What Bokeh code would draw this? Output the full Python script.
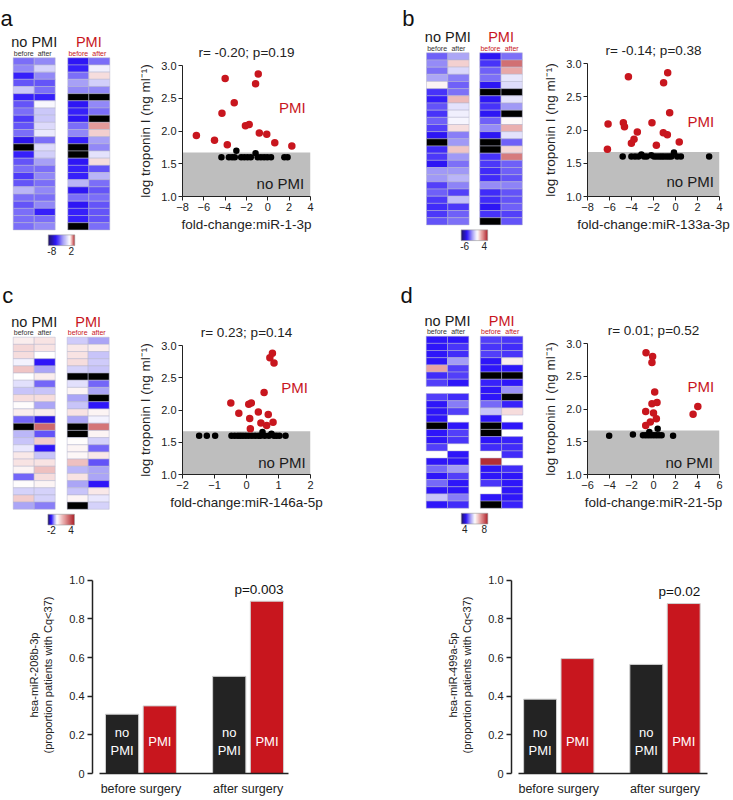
import numpy as np
from bokeh.plotting import figure
from bokeh.models import Range1d, FixedTicker, LinearColorMapper, ColumnDataSource, Label, PrintfTickFormatter
from bokeh.core.properties import value
from bokeh.layouts import row, column
from bokeh.embed import file_html
from bokeh.resources import INLINE

FONT = "Liberation Sans"
RED = "#c8161e"
GRAY = "#bebebe"
DARK = "#222222"
NA = float("nan")   # black cell (not available)
GAP = None          # blank cell

# ---------------- heatmap values (rows = patients) ----------------
a_nopmi_before = [-3.5, -3, -5, -4, -1.5, -5, -4, -3.5, -4.5, -4, -3.5, -5.5, NA, -5, -4, -3.5, -4.5, -4, -2, -3.5, -4, -3.5, -3.5, -3.5]
a_nopmi_after = [-3, -1.2, -3, -4, -3.5, -5, -0.2, -1.5, -1.5, -1, -0.6, -3.5, -1, -1.3, -2.5, -3.5, -3, -3.5, -3, -3.5, -3, -5, -3.5, -3]
a_pmi_before = [-5.3, -5, -3.5, -2.5, -3, NA, -5.3, -5, -5.3, -3.5, -3, -5, NA, NA, -5.3, -5, -5, -2, -5.3, -3.5, -5.3, -5, -5, NA]
a_pmi_after = [-3.5, -0.4, 0.3, -1.3, -3, NA, -3, -3.5, NA, 0.9, 0.4, -2.5, -3, -0.8, 0.3, -4, -2, -3.5, -4, -3.5, -4, -4, -4, -3.5]

b_nopmi_before = [-2.8, -2.2, -2.6, -1.8, 0.2, -3.5, -3.8, -3, -3.5, -2.8, -3.3, -4, NA, -3.6, -3.4, -4, -2, -2, -3.3, -2.8, -3.4, -3.6, -3.4, -3]
b_nopmi_after = [-1.8, 0.8, -0.8, -2.4, -2.8, -2.6, 1.2, -0.6, -0.3, -0.2, 0.6, -2.4, -2, 1.0, -2, -2.6, -2, -1.5, -2.3, -3.3, -1.3, -3.4, -2.8, -2.6]
b_pmi_before = [-4, -3.5, -2.8, -2.6, -4, NA, -4, -3.5, -4, -2.8, -2.2, -4, NA, NA, -3.5, -3.4, -3.6, -3.6, -2.2, -3.6, -3.6, -4, -3.5, NA]
b_pmi_after = [-2.6, 2.5, 1.5, -0.5, -0.7, NA, -0.6, -2, NA, 0.1, 1.4, -0.6, -2.8, 0.7, 2.3, -2.8, -2.8, -3, -2.3, -3, -3, -2.8, -3.3, -3]

c_nopmi_before = [0.3, 0.7, 0.6, -0.1, 1.0, 0, -0.2, -0.4, 0.6, 0.05, 0.3, -0.9, NA, -0.5, -0.4, -0.15, 0.4, 0.5, 0.2, -0.9, 0.05, -0.3, 0.9, -0.6]
c_nopmi_after = [0.5, 0.5, 0, -1.3, -0.6, 0.3, -0.9, -0.4, 0.6, -0.6, 0.3, -1.4, 2.6, -1.0, 0.9, -1.3, -0.4, 0.5, 1.1, 0.6, 0.2, -0.3, -0.3, -0.8]
c_pmi_before = [-0.35, 0.4, 0.5, 0.6, -0.3, NA, -0.2, 0.2, -0.6, -0.4, 0.5, -0.6, NA, NA, 0.05, 0.2, 0.15, 1.1, -0.5, 0.5, -0.6, -0.4, 0.2, NA]
c_pmi_after = [-0.6, 0.3, -0.4, -0.35, -0.4, NA, -0.9, -0.6, NA, -1.3, 0.2, -0.1, 2.4, 0.2, -0.3, -0.9, 0.4, -1.0, -0.6, -0.6, -1.3, 0.4, -0.15, -0.3]

d_nopmi_before = [4.7, 4.7, 4.7, 4.7, 6.8, 4.8, 4.9, GAP, 4.9, 4.7, 4.7, 4.7, NA, 4.7, 4.7, 4.9, GAP, 4.7, 5.1, 4.7, 5.1, 4.7, 5.6, 4.7]
d_nopmi_after = [4.7, 4.85, 4.8, 5.35, 4.9, 4.9, 4.7, GAP, 4.8, 5.2, 4.9, GAP, 4.7, 4.9, 4.85, GAP, 4.7, 4.7, 5.35, 4.9, 4.7, 4.7, 5.2, 4.8]
d_pmi_before = [4.9, 4.85, 4.9, 4.7, 4.7, NA, 4.75, 4.7, 4.7, 5.1, 5.6, 4.7, NA, NA, 4.7, 4.8, GAP, 7.8, 4.7, 4.7, 4.85, GAP, 4.7, NA]
d_pmi_after = [4.85, 4.8, 4.85, 6.15, 4.7, NA, 4.7, 5.3, NA, 4.75, 6.3, GAP, 4.7, GAP, 4.75, 4.8, 4.8, GAP, 4.8, 4.7, 4.7, 4.7, 4.7, 4.75]

# ---------------- scatter values ----------------
THRESH = 1.67
a_pmi_x = [-6.7, -5.0, -3.8, -4.0, -4.3, -3.15, -2.1, -1.75, -1.15, -0.9, -0.8, -0.1, 0.65, 2.25]
a_pmi_y = [1.93, 1.86, 1.79, 2.80, 2.27, 2.43, 2.08, 2.10, 2.72, 2.87, 1.97, 1.95, 1.82, 1.77]
a_nopmi_x = [-4.35, -3.65, -3.35, -3.1, -2.95, -2.5, -2.2, -1.9, -1.6, -1.15, -0.95, -0.65, -0.35, -0.05, 0.3, 1.55, 1.85]
a_nopmi_y = [1.6, 1.6, 1.6, 1.6, 1.7, 1.6, 1.6, 1.6, 1.6, 1.66, 1.6, 1.6, 1.6, 1.6, 1.6, 1.6, 1.6]

b_pmi_x = [-6.13, -6.19, -4.74, -4.64, -4.28, -4.01, -3.77, -3.47, -2.14, -1.74, -1.08, -1.11, -0.71, -0.74, -0.53, 0.34]
b_pmi_y = [2.09, 1.71, 2.11, 2.05, 2.80, 1.80, 1.86, 1.97, 2.11, 1.77, 2.71, 1.96, 2.86, 1.93, 2.26, 1.82]
b_nopmi_x = [-4.80, -4.01, -3.68, -3.37, -3.10, -2.86, -2.62, -2.20, -1.95, -1.71, -1.47, -1.26, -1.05, -0.81, -0.59, -0.38, -0.14, 0.16, 0.49, 3.06]
b_nopmi_y = [1.6, 1.6, 1.6, 1.6, 1.63, 1.6, 1.6, 1.62, 1.6, 1.6, 1.6, 1.6, 1.6, 1.6, 1.6, 1.6, 1.66, 1.6, 1.6, 1.6]

c_pmi_x = [-0.49, -0.24, 0.07, 0.15, 0.10, 0.12, 0.37, 0.45, 0.55, 0.63, 0.68, 0.73, 0.81, 0.86, 0.83]
c_pmi_y = [2.11, 1.95, 2.09, 2.11, 1.87, 1.71, 1.97, 1.80, 2.27, 1.76, 1.93, 2.81, 2.88, 2.73, 1.81]
c_nopmi_x = [-1.48, -1.24, -0.98, -0.47, -0.37, -0.27, -0.19, -0.11, -0.02, 0.07, 0.17, 0.27, 0.37, 0.44, 0.50, 0.57, 0.70, 0.78, 0.86, 0.94, 1.03, 1.22]
c_nopmi_y = [1.6, 1.6, 1.6, 1.6, 1.6, 1.6, 1.6, 1.6, 1.6, 1.6, 1.6, 1.6, 1.6, 1.6, 1.66, 1.6, 1.6, 1.63, 1.6, 1.6, 1.6, 1.6]

d_pmi_x = [-0.68, -0.08, -0.14, 0.11, -0.14, 0.32, -0.71, 0.0, 0.26, -0.29, -0.71, 3.60, 4.03]
d_pmi_y = [2.86, 2.80, 2.71, 2.26, 2.08, 2.10, 1.96, 1.94, 1.85, 1.80, 1.75, 1.92, 2.04]
d_nopmi_x = [-4.03, -1.87, -0.96, -0.71, -0.47, -0.38, -0.23, 0.02, 0.26, 0.38, 0.50, 0.74, 1.78]
d_nopmi_y = [1.59, 1.61, 1.6, 1.6, 1.6, 1.65, 1.6, 1.6, 1.6, 1.70, 1.6, 1.6, 1.59]

# ---------------- bar values ----------------
groups = ["before surgery", "after surgery"]
e_nopmi = [0.307, 0.503]
e_pmi = [0.35, 0.892]
f_nopmi = [0.385, 0.565]
f_pmi = [0.595, 0.88]

# ---------------- colour helpers ----------------
BLUE_STOPS = [(0.0, (255, 255, 255)), (0.3, (172, 166, 246)), (0.65, (46, 22, 250)), (1.0, (32, 22, 96))]
RED_STOPS = [(0.0, (255, 255, 255)), (0.45, (228, 152, 152)), (1.0, (168, 24, 34))]


def interp(stops, t):
    t = min(max(t, 0.0), 1.0)
    for (t0, c0), (t1, c1) in zip(stops, stops[1:]):
        if t <= t1:
            f = (t - t0) / (t1 - t0)
            return "#%02x%02x%02x" % tuple(int(round(a + (b - a) * f)) for a, b in zip(c0, c1))
    return "#%02x%02x%02x" % stops[-1][1]


def diverging(low, high, mid, n=256):
    out = []
    for i in range(n):
        v = low + (high - low) * (i + 0.5) / n
        if v < mid:
            out.append(interp(BLUE_STOPS, (mid - v) / (mid - low)))
        else:
            out.append(interp(RED_STOPS, (v - mid) / (high - mid)))
    return out


def txt(p, x, y, text, size, color=DARK, align="center", baseline="middle"):
    p.text(x=x, y=y, text=text, text_font=value(FONT), text_font_size=size,
           text_color=color, text_align=align, text_baseline=baseline)


def heatmap(letter, cols, low, high, mid, cb_labels, fig_w, fig_h, left_px, top_px, colw, pmi_off, letter_px):
    rowh = 7.17
    x0 = -left_px / colw
    x1 = x0 + fig_w / colw
    y1 = top_px / rowh
    y0 = y1 - fig_h / rowh
    p = figure(width=fig_w, height=fig_h, x_range=Range1d(x0, x1), y_range=Range1d(y0, y1),
               x_axis_location=None, y_axis_location=None, toolbar_location=None,
               output_backend="svg", min_border=0, outline_line_color=None, frame_align=False)
    p.grid.visible = False
    mapper = LinearColorMapper(palette=diverging(low, high, mid), low=low, high=high, nan_color="black")
    xs, ys, vs = [], [], []
    for b in range(2):
        for j in range(2):
            for i, v in enumerate(cols[2 * b + j]):
                if v is None:
                    continue
                xs.append(b * pmi_off + j + 0.5)
                ys.append(-(i + 0.5))
                vs.append(v)
    src = ColumnDataSource(dict(x=xs, y=ys, v=vs))
    p.rect("x", "y", 1, 1, source=src, fill_color={"field": "v", "transform": mapper},
           line_color="#b4b4cc", line_width=0.5)
    nrows = len(cols[0])
    hy = 15.5 / rowh
    sy = 4.8 / rowh
    txt(p, [1.0], [hy], ["no PMI"], "14.5px", "#1a1a1a")
    txt(p, [pmi_off + 1.0], [hy], ["PMI"], "14.5px", RED)
    txt(p, [0.5, 1.5], [sy, sy], ["before", "after"], "7px", "#333333")
    txt(p, [pmi_off + 0.5, pmi_off + 1.5], [sy, sy], ["before", "after"], "7px", RED)
    # colour key
    cx = (pmi_off + 2.0) / 2.0
    cw = 26.5 / colw
    ch = 10.7 / rowh
    cb_top = -nrows - 5.0 / rowh
    p.image(image=[np.linspace(low, high, 128).reshape(1, -1)], x=cx - cw / 2, y=cb_top - ch,
            dw=cw, dh=ch, color_mapper=mapper)
    p.rect(x=[cx], y=[cb_top - ch / 2], width=cw, height=ch, fill_color=None,
           line_color="#9a9a9a", line_width=0.6)
    ly = cb_top - ch - 1.5 / rowh
    txt(p, [cx - cw / 2 + 3.5 / colw, cx + cw / 2 - 3.5 / colw], [ly, ly],
        cb_labels, "10px", "#222222", baseline="top")
    txt(p, [x0 + letter_px[0] / colw], [y1 - letter_px[1] / rowh], [letter], "22px", "#111111",
        align="left", baseline="alphabetic")
    return p


def style_axes(p):
    for ax in (p.xaxis[0], p.yaxis[0]):
        ax.axis_line_color = DARK
        ax.major_tick_line_color = DARK
        ax.minor_tick_line_color = None
        ax.major_tick_in = 0
        ax.major_tick_out = 4
        ax.major_label_text_font = FONT
        ax.major_label_text_font_size = "11px"
        ax.major_label_text_color = DARK
        ax.axis_label_text_font = FONT
        ax.axis_label_text_font_style = "normal"
        ax.axis_label_text_color = DARK


def scatter(title, xlabel, xr, xticks, px, py, nx, ny, fig_w, fig_h, borders, pmi_pos, nopmi_pos, xl_size="13.5px"):
    l, r, t, b = borders
    p = figure(width=fig_w, height=fig_h, x_range=Range1d(*xr), y_range=Range1d(1.0, 3.0),
               toolbar_location=None, output_backend="svg", title=title,
               min_border_left=l, min_border_right=r, min_border_top=t, min_border_bottom=b,
               outline_line_color=None, frame_align=False)
    p.grid.visible = False
    p.title.text_font = FONT
    p.title.text_font_size = "13.5px"
    p.title.text_font_style = "normal"
    p.title.text_color = DARK
    p.title.align = "center"
    p.title.standoff = 12
    p.quad(left=[xr[0]], right=[xr[1]], bottom=[1.0], top=[THRESH], fill_color=GRAY, line_color=None)
    p.scatter(nx, ny, size=6.5, fill_color="black", line_color=None)
    p.scatter(px, py, size=7.5, fill_color=RED, line_color=None)
    txt(p, [pmi_pos[0]], [pmi_pos[1]], ["PMI"], "15px", RED)
    txt(p, [nopmi_pos[0]], [nopmi_pos[1]], ["no PMI"], "15px", "#1a1a1a", align="right")
    style_axes(p)
    p.xaxis.ticker = FixedTicker(ticks=xticks)
    p.yaxis.ticker = FixedTicker(ticks=[1.0, 1.5, 2.0, 2.5, 3.0])
    p.yaxis.formatter = PrintfTickFormatter(format="%.1f")
    p.xaxis.axis_label = xlabel
    p.yaxis.axis_label = "log troponin I (ng ml\u207b\u00b9)"
    p.xaxis.axis_label_text_font_size = xl_size
    p.yaxis.axis_label_text_font_size = "13.5px"
    for ax in (p.xaxis[0], p.yaxis[0]):
        ax.major_label_standoff = 2
    p.xaxis.axis_label_standoff = 3
    p.yaxis.axis_label_standoff = 5
    return p


def bars(letter, ylabel, nopmi, pmi, pval, fig_w, fig_h, borders, xr, xbounds, letter_xy):
    l, r, t, b = borders
    off, w = 0.176, 0.31
    p = figure(width=fig_w, height=fig_h, x_range=Range1d(*xr), y_range=Range1d(0.0, 1.02),
               toolbar_location=None, output_backend="svg",
               min_border_left=l, min_border_right=r, min_border_top=t, min_border_bottom=b,
               outline_line_color=None, frame_align=False)
    p.grid.visible = False
    g = np.arange(len(groups))
    p.vbar(x=g - off, top=nopmi, width=w, fill_color="#232323", line_color="#d0d0d0", line_width=1)
    p.vbar(x=g + off, top=pmi, width=w, fill_color=RED, line_color="#d0d0d0", line_width=1)
    txt(p, list(g - off), [0.165] * len(g), ["no\nPMI"] * len(g), "13px", "white")
    txt(p, list(g + off), [0.165] * len(g), ["PMI"] * len(g), "13px", "white")
    txt(p, [g[-1] + off + w / 2], [pmi[-1] + 0.06], [pval], "13.5px", "#111111", align="right")
    style_axes(p)
    p.xaxis.ticker = FixedTicker(ticks=list(g))
    p.xaxis.major_label_overrides = {int(i): groups[i] for i in g}
    p.xaxis.major_tick_line_color = None
    p.xaxis.major_label_text_font_size = "12.5px"
    p.xaxis.major_label_standoff = 4
    p.xaxis.bounds = xbounds
    p.xaxis.axis_line_width = 1.5
    p.yaxis.ticker = FixedTicker(ticks=[0.0, 0.2, 0.4, 0.6, 0.8, 1.0])
    p.yaxis.formatter = PrintfTickFormatter(format="%.1f")
    p.yaxis.major_label_overrides = {0: "0"}
    p.yaxis.bounds = (0.0, 1.0)
    p.yaxis.axis_line_width = 1.5
    p.yaxis.major_tick_line_width = 1.5
    p.yaxis.major_tick_out = 5
    p.yaxis.major_label_standoff = 3
    p.yaxis.axis_label = ylabel
    p.yaxis.axis_label_text_font_size = "11px"
    p.yaxis.axis_label_standoff = 12
    p.add_layout(Label(x=letter_xy[0], y=letter_xy[1], text=letter, text_font=FONT,
                       text_font_size="22px", text_color="#111111", text_baseline="alphabetic"))
    return p


H1, H2, H3 = 278, 270, 250

ha = heatmap("a", [a_nopmi_before, a_nopmi_after, a_pmi_before, a_pmi_after], -8, 2, 0, ["-8", "2"],
             135, H1, 12.7, 57.3, 21.0, 2.6, (0.0, 18.3))
sa = scatter("r= -0.20; p=0.19", "fold-change:miR-1-3p", (-8, 4), [-8, -6, -4, -2, 0, 2, 4],
             a_pmi_x, a_pmi_y, a_nopmi_x, a_nopmi_y, 231, H1, (43, 56, 65, 82), (2.3, 2.36), (3.4, 1.2))
hb = heatmap("b", [b_nopmi_before, b_nopmi_after, b_pmi_before, b_pmi_after], -6, 4, 0, ["-6", "4"],
             159, H1, 60.0, 52.3, 21.3, 2.5, (35.7, 18.3))
sb = scatter("r= -0.14; p=0.38", "fold-change:miR-133a-3p", (-8, 4), [-8, -6, -4, -2, 0, 2, 4],
             b_pmi_x, b_pmi_y, b_nopmi_x, b_nopmi_y, 206, H1, (62, 12, 63, 82), (2.3, 2.13), (3.5, 1.22),
             xl_size="13.5px")

hc = heatmap("c", [c_nopmi_before, c_nopmi_after, c_pmi_before, c_pmi_after], -2, 4, 0, ["-2", "4"],
             135, H2, 12.7, 58.7, 21.0, 2.57, (1.7, 17.0))
sc = scatter("r= 0.23; p=0.14", "fold-change:miR-146a-5p", (-2, 2), [-2, -1, 0, 1, 2],
             c_pmi_x, c_pmi_y, c_nopmi_x, c_nopmi_y, 231, H2, (44, 56, 67, 74), (1.5, 2.35), (1.85, 1.18))
hd = heatmap("d", [d_nopmi_before, d_nopmi_after, d_pmi_before, d_pmi_after], 4, 8, 6, ["4", "8"],
             159, H2, 59.7, 57.7, 21.3, 2.54, (34.0, 17.0))
sd = scatter("r= 0.01; p=0.52", "fold-change:miR-21-5p", (-6, 6), [-6, -4, -2, 0, 2, 4, 6],
             d_pmi_x, d_pmi_y, d_nopmi_x, d_nopmi_y, 206, H2, (62, 12, 65, 74), (4.3, 2.35), (5.4, 1.19))

be = bars("e", "hsa-miR-208b-3p\n(proportion patients with Cq<37)", e_nopmi, e_pmi, "p=0.003",
          366, H3, (92, 78, 28, 21), (-0.452, 1.377), (-0.39, 1.377), (-1.305, 1.015))
bf = bars("f", "hsa-miR-499a-5p\n(proportion patients with Cq<37)", f_nopmi, f_pmi, "p=0.02",
          365, H3, (145, 24, 28, 21), (-0.445, 1.40), (-0.382, 1.40), (-1.482, 1.015))

layout = column(row(ha, sa, hb, sb), row(hc, sc, hd, sd), row(be, bf))

open("out.html", "w").write(file_html(layout, INLINE))
